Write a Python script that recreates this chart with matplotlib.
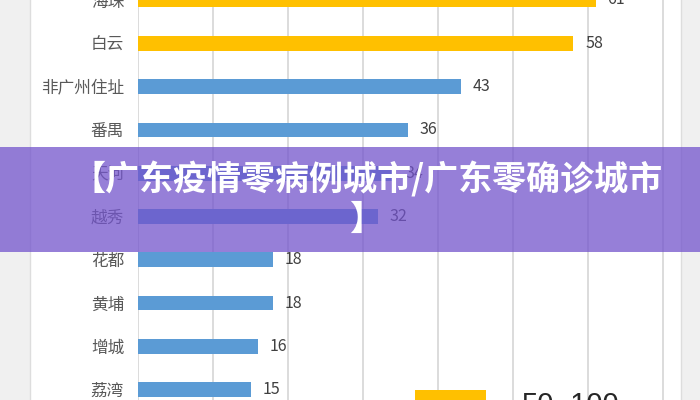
import matplotlib
matplotlib.use("Agg")
import matplotlib.pyplot as plt
from matplotlib.patches import Rectangle

plt.rcParams['font.family'] = ['Noto Sans CJK SC', 'DejaVu Sans']

# 各区病例数（从上到下）
districts = ['海珠', '白云', '非广州住址', '番禺', '天河', '越秀', '花都', '黄埔', '增城', '荔湾']
cases = [61, 58, 43, 36, 34, 32, 18, 18, 16, 15]
legend_label = '50~100'
title = '【广东疫情零病例城市/广东零确诊城市\n】'

yellow = '#FFC000'
blue = '#5B9BD5'
colors = [yellow if c >= 50 else blue for c in cases]

fig = plt.figure(figsize=(7, 4), dpi=100)
fig.patch.set_facecolor('#f0f0f0')

# white chart frame
fig.patches.append(Rectangle((30 / 700, -0.05), 651 / 700, 1.1, transform=fig.transFigure,
                             facecolor='white', edgecolor='#dddddd', lw=1, zorder=-2))

ax = fig.add_axes([138 / 700, 0, (681 - 138) / 700, 1])
ax.set_facecolor('none')
pos = list(range(len(districts)))
ax.barh(pos, cases, height=0.34, color=colors, zorder=2)
ax.set_xlim(0, (681 - 138) / 7.5)
ax.set_ylim(9.24, 0.103)
ax.set_xticks(range(0, 71, 10))
ax.grid(axis='x', color='#d9d9d9', lw=1.3, zorder=0)
ax.tick_params(axis='x', length=0, labelbottom=False)
ax.set_yticks(pos, districts)
ax.tick_params(axis='y', length=0, pad=10, labelsize=12, labelcolor='#595959')
for s in ax.spines.values():
    s.set_visible(False)

for i, v in enumerate(cases):
    ax.text(v + 1.6, i, str(v), va='center', ha='left', fontsize=11.5, color='#404040')

# legend (partly cut off at the bottom)
fig.patches.append(Rectangle((415 / 700, -0.05), 71 / 700, 0.05 + 10 / 400,
                             transform=fig.transFigure, facecolor=yellow, zorder=1))
fig.text(522 / 700, 9 / 400, legend_label, ha='left', va='top', fontsize=21,
         family=['Liberation Sans', 'DejaVu Sans'], color='#262626')

# purple title banner
fig.patches.append(Rectangle((0, (400 - 252) / 400), 1, 105 / 400, transform=fig.transFigure,
                             facecolor=(0.45, 0.33, 0.80), alpha=0.75, lw=0, zorder=5))
fig.text(367 / 700, 0.502, title, ha='center', va='center', multialignment='center',
         fontsize=24.5, fontweight=900, color='white', linespacing=1.15, zorder=6)

fig.savefig('out.png', dpi=100, facecolor=fig.get_facecolor())
